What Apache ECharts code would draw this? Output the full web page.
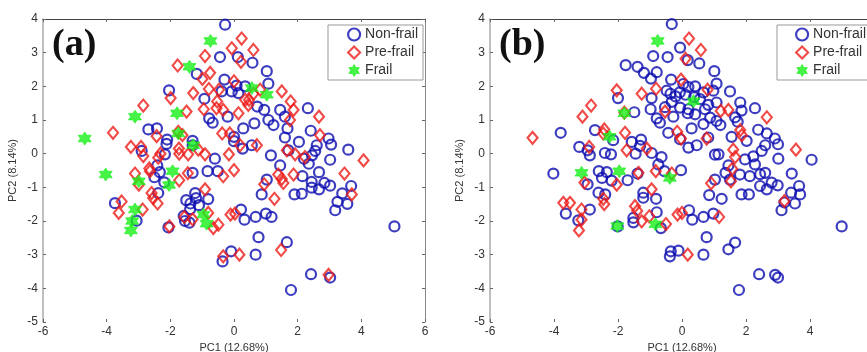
<!DOCTYPE html>
<html>
<head>
<meta charset="utf-8">
<script src="https://cdn.jsdelivr.net/npm/echarts@6/dist/echarts.min.js"></script>
<style>
html,body{margin:0;padding:0;background:#fff;}
#main{width:867px;height:352px;}
</style>
</head>
<body>
<div id="main"></div>
<script>
// axis ranges (same for both panels)
var xRange = [-6, 6, 2];
var yRange = [-5, 4, 1];
var xName = 'PC1 (12.68%)';
var yName = 'PC2 (8.14%)';
var groupNames = ['Non-frail', 'Pre-frail', 'Frail'];
var panelLabels = ['(a)', '(b)'];

// panel (a) scores
var aNonFrail = [
 [-0.28,3.83],[-0.44,2.87],[0.12,2.87],[0.58,2.7],[-1.17,2.37],[1.03,2.45],[-0.3,2.2],[1.08,2.08],[0.08,2.02],[0.35,2.0],
 [-2.04,1.88],[-0.39,1.85],[-0.07,1.85],[0.14,1.8],[-0.93,1.63],[0.73,1.4],[0.95,1.3],[1.08,1.0],[1.24,0.85],[1.45,1.3],
 [1.6,1.1],[1.68,0.75],[1.6,0.48],[2.32,1.35],[2.41,0.68],[2.04,0.35],[2.6,0.25],[2.97,0.45],[3.05,0.27],[3.59,0.12],
 [-0.78,1.05],[-0.67,0.92],[-0.2,1.1],[0.29,0.75],[0.64,0.9],[0,0.37],[0.0,0.5],[0.56,0.25],[0.27,0.15],[1.16,-0.05],
 [1.71,0.1],[2.55,0.08],[2.2,-0.15],[2.45,-0.05],[1.45,-0.35],[2.35,-0.3],[3.02,-0.18],[-2.69,0.72],[-2.42,0.75],[-2.1,0.42],
 [-2.12,0.29],[-1.3,0.38],[-1.3,0.25],[-2.9,0.08],[-2.17,-0.02],[-0.6,-0.15],
 [-3.74,-1.47],[-3.06,-1.99],[-2.41,-0.35],[-2.33,-0.55],[-2.5,-0.7],[-2.19,-0.85],[-2.38,-1.17],[-1.3,-0.57],[-0.83,-0.52],[-0.51,-0.52],
 [-1.22,-1.17],[-1.19,-1.32],[-0.81,-1.35],[-1.5,-1.38],[-1.37,-1.48],[-1.1,-1.53],[-1.38,-1.65],[-1.54,-2.0],[-1.4,-2.05],[-1.58,-1.85],
 [-2.06,-2.19],[-0.36,-3.2],[-0.09,-2.9],[1.03,-0.77],[0.87,-1.21],[2.15,-0.67],[1.9,-1.21],[2.13,-1.19],[2.44,-0.84],[2.44,-1.01],
 [2.67,-1.06],[2.67,-0.55],[2.84,-0.87],[3.02,-0.95],[3.68,-0.96],[3.4,-1.18],[3.25,-1.43],[3.18,-1.68],[3.56,-1.49],[0.22,-1.66],
 [0.33,-1.96],[0.68,-1.88],[1.0,-1.78],[1.18,-1.88],[0.77,-2.48],[1.66,-2.63],[0.68,-3.0],[5.04,-2.16],[2.42,-3.58],[3.02,-3.68],
 [1.79,-4.05]
];
var aPreFrail = [
 [-0.07,3.13],[0.24,3.42],[0.61,3.08],[-0.91,2.9],[0.22,2.73],[-1.77,2.62],[-0.75,2.4],[-0.99,2.22],[0,2.15],[-0.79,1.92],
 [-0.47,1.9],[-1.28,1.8],[-1.99,1.65],[0.82,1.9],[0.61,1.78],[1.5,1.85],[-0.53,1.55],[-0.55,1.35],[0.47,1.6],[0.35,1.6],
 [0.45,1.45],[-0.95,1.32],[-1.49,1.25],[-2.85,1.43],[-0.34,1.3],[0.14,1.2],[1.78,1.55],[1.87,1.3],[1.76,1.0],[2.67,1.1],
 [2.7,0.55],[-3.8,0.62],[-2.43,0.52],[-1.75,0.65],[-1.62,0.55],[-0.37,0.6],[-0.13,0.6],[-3.24,0.2],[-2.92,0.2],[-2.85,-0.07],
 [-2.31,0],[-2.38,-0.12],[-1.73,0.15],[-1.72,0.0],[-1.44,-0.02],[-1.12,0.12],[-0.91,-0.02],[-0.16,-0.02],[0.19,0.25],[0.72,0.25],
 [1.66,0.1],[1.92,-0.02],[2.23,-0.1],[4.07,-0.2],
 [0,-0.49],[-0.34,-0.67],[-3.11,-0.59],[-2.66,-0.44],[-2.64,-0.52],[-2.99,-0.92],[-1.72,-0.79],[-1.45,-0.58],[-0.91,-1.06],[0.95,-0.91],
 [1.39,-0.62],[1.55,-0.87],[1.5,-0.75],[1.87,-0.62],[1.27,-1.34],[3.47,-0.59],[3.7,-1.21],[-3.53,-1.42],[-3.62,-1.76],[-2.87,-1.66],
 [-2.59,-1.17],[-2.54,-1.32],[-2.4,-1.48],[-0.81,-1.76],[-1.56,-1.88],[-1.3,-1.95],[-0.65,-2.21],[-0.49,-2.11],[-2.03,-2.16],[-0.34,-3.05],
 [-0.11,-1.81],[0.03,-1.78],[1.48,-2.86],[0.17,-3.0],[2.97,-3.6]
];
var aFrail = [
 [-0.74,3.35],[-1.4,2.58],[0.56,1.95],[1.03,1.75],[-3.11,1.1],[-1.79,1.2],[-4.69,0.45],[-1.75,0.6],[-1.28,0.25],
 [-4.03,-0.62],[-1.93,-0.52],[-2.99,-0.82],[-2.04,-0.93],[-3.11,-1.66],[-3.2,-2.0],[-3.24,-2.28],[-0.96,-1.81],[-0.86,-2.08]
];

// panel (b) scores
var bNonFrail = [
 [-0.32,3.85],[-0.06,3.15],[-0.9,2.9],[-0.45,2.87],[0.18,2.78],[0.54,2.68],[-1.76,2.63],[-1.39,2.58],[-1.19,2.4],[-0.79,2.42],
 [1.01,2.45],[-0.97,2.23],[-0.34,2.2],[1.08,2.08],[0.04,2.07],[0.41,2.0],[0.2,1.98],[-0.48,1.87],[-0.07,1.82],[0.67,1.82],
 [0.98,1.87],[-0.36,1.78],[-0.2,1.7],[0.11,1.75],[0.38,1.68],[1.5,1.85],[-2.0,1.65],[-0.95,1.65],[-0.32,1.54],[0.56,1.62],
 [1.08,1.52],[1.82,1.52],[-0.98,1.32],[-1.49,1.23],[-0.53,1.38],[-0.06,1.37],[0.2,1.32],[0.72,1.32],[0.82,1.45],[1.86,1.28],
 [2.28,1.35],[-0.79,1.05],[-0.69,0.92],[-0.27,1.1],[0.41,1.17],[0.18,1.2],[0.88,1.07],[1.08,0.97],[1.2,0.85],[1.66,1.08],
 [1.74,0.95],[0.3,0.75],[0.67,0.88],[-0.43,0.62],[-0.06,0.43],[0.2,0.18],[0.46,0.25],[0.82,0.48],[1.03,-0.03],[1.55,0.5],
 [2.02,0.38],[2.38,0.71],[2.65,0.6],[2.9,0.45],[3.0,0.28],[2.6,0.25],[2.49,0.08],[2.23,-0.08],[1.14,-0.02],[3.01,-0.15],
 [4.05,-0.18],[-3.79,0.62],[-2.72,0.7],[-3.21,0.2],[-2.88,-0.05],[-2.95,0.1],[-2.41,0.02],[-2.22,-0.02],[-2.15,0.4],[-1.57,0.35],
 [-1.28,0.42],[-1.31,0.23],[-1.45,0.0],[-0.95,0.02],[-0.64,-0.1],[-0.74,-0.32],
 [-4.02,-0.59],[-3.63,-1.78],[-3.24,-1.98],[-2.88,-1.66],[-2.95,-0.91],[-2.6,-0.52],[-2.5,-0.72],[-2.35,-0.55],[-2.2,-0.8],[-2.61,-1.16],
 [-2.4,-1.21],[-1.7,-0.79],[-1.39,-0.59],[-1.21,-1.16],[-1.21,-1.31],[-0.81,-1.34],[-0.79,-1.74],[-1.52,-1.91],[-1.52,-2.04],[-2.01,-2.16],
 [-0.66,-2.21],[-0.55,-0.52],[-0.38,-3.05],[-0.35,-2.9],[-0.03,-0.49],[1.03,-0.77],[0.85,-1.23],[1.24,-1.34],[1.36,-0.57],[1.5,-0.77],
 [1.81,-0.62],[1.86,-1.21],[2.09,-1.21],[2.12,-0.67],[2.44,-0.96],[2.44,-0.61],[2.65,-1.06],[2.6,-0.57],[2.8,-0.86],[2.99,-0.94],
 [1.97,-0.17],[2.28,-0.32],[1.45,-0.35],[3.43,-0.59],[3.66,-0.96],[3.41,-1.16],[3.69,-1.21],[3.53,-1.48],[3.11,-1.68],[3.2,-1.45],
 [0.22,-1.68],[0.32,-1.96],[0.67,-1.88],[0.98,-1.78],[0.77,-2.48],[1.45,-2.84],[1.66,-2.64],[-0.11,-2.88],[0.67,-3.0],[4.99,-2.16],
 [2.41,-3.58],[2.91,-3.6],[3.0,-3.68],[1.78,-4.05]
];
var bPreFrail = [
 [0.22,3.42],[0.59,3.08],[0.11,2.82],[-0.03,2.2],[-2.04,1.88],[-1.26,1.78],[-0.81,1.93],[0.8,1.9],[-2.84,1.43],[-0.53,1.25],
 [-1.8,1.22],[1.45,1.3],[1.21,1.27],[-3.11,1.1],[2.65,1.08],[-2.43,0.72],[-2.46,0.6],[-1.78,0.62],[1.82,0.7],[1.87,0.55],
 [-0.15,0.65],[-0.03,0.45],[0.77,0.45],[-4.67,0.47],[-2.9,0.2],[-1.73,0.1],[-1.1,0.15],[1.6,0.12],[1.66,-0.1],[3.56,0.12],
 [-0.32,-0.59],[-0.82,-0.52],[-1.36,-0.57],[-2.04,-0.92],[-3.05,-0.86],[-0.95,-1.06],[0.91,-0.88],[1.53,-0.82],[1.57,-0.45],[-3.71,-1.46],
 [-3.5,-1.46],[-3.14,-1.66],[-3.14,-1.96],[-3.22,-2.28],[-2.46,-1.34],[-2.43,-1.5],[-1.47,-1.56],[-1.4,-1.7],[-1.26,-2.01],[-1.02,-1.86],
 [-0.5,-2.09],[-0.14,-1.81],[0.0,-1.76],[1.16,-1.88],[0.18,-3.0],[3.2,-1.41]
];
var bFrail = [
 [-0.76,3.35],[0.36,1.56],[-1.8,1.2],[-2.26,0.5],[-3.14,-0.57],[-1.96,-0.52],[-0.38,-0.72],[-2.02,-2.15],[-0.83,-2.1]
];

var BLUE = '#0c0cb0';
var RED = '#ec1c18';
var GREEN = '#18f018';
var STAR = 'path://M0,-10L2.89,-5L8.66,-5L5.77,0L8.66,5L2.89,5L0,10L-2.89,5L-8.66,5L-5.77,0L-8.66,-5L-2.89,-5Z';

var chart = echarts.init(document.getElementById('main'));

function styleOf(k) {
    if (k === 0) return {symbol: 'circle', symbolSize: 10, itemStyle: {color: 'rgba(0,0,0,0)', borderColor: BLUE, borderWidth: 2.2}};
    if (k === 1) return {symbol: 'diamond', symbolSize: [10, 12], itemStyle: {color: 'rgba(0,0,0,0)', borderColor: RED, borderWidth: 2.1}};
    return {symbol: STAR, symbolSize: 13, itemStyle: {color: GREEN, borderColor: GREEN, borderWidth: 0.8}};
}

var grids = [
    {left: 43, top: 19, width: 382, height: 303},
    {left: 490, top: 19, width: 384, height: 303}
];

var xAxes = [], yAxes = [];
grids.forEach(function (g, gi) {
    xAxes.push({
        type: 'value', gridIndex: gi, min: xRange[0], max: xRange[1], interval: xRange[2], position: 'bottom',
        name: xName, nameLocation: 'middle', nameGap: 17,
        nameTextStyle: {fontSize: 11, color: '#333'},
        axisLine: {show: false, onZero: false},
        axisTick: {show: true, inside: true, length: 3, lineStyle: {color: '#666'}},
        axisLabel: {fontSize: 12, color: '#333', margin: 4},
        splitLine: {show: false}
    });
    xAxes.push({
        type: 'value', gridIndex: gi, min: xRange[0], max: xRange[1], interval: xRange[2], position: 'top',
        axisLine: {show: true, onZero: false, lineStyle: {color: '#444', width: 1}},
        axisTick: {show: true, inside: true, length: 3, lineStyle: {color: '#666'}},
        axisLabel: {show: false}, splitLine: {show: false}
    });
    yAxes.push({
        type: 'value', gridIndex: gi, min: yRange[0], max: yRange[1], interval: yRange[2], position: 'left',
        name: yName, nameLocation: 'middle', nameGap: 25,
        nameTextStyle: {fontSize: 11, color: '#333'},
        axisLine: {show: true, onZero: false, lineStyle: {color: '#aaa', width: 1.5}},
        axisTick: {show: true, inside: true, length: 3, lineStyle: {color: '#666'}},
        axisLabel: {fontSize: 12, color: '#333', margin: 5},
        splitLine: {show: false}
    });
    yAxes.push({
        type: 'value', gridIndex: gi, min: yRange[0], max: yRange[1], interval: yRange[2], position: 'right',
        axisLine: {show: true, onZero: false, lineStyle: {color: '#888', width: 1}},
        axisTick: {show: true, inside: true, length: 3, lineStyle: {color: '#666'}},
        axisLabel: {show: false}, splitLine: {show: false}
    });
});

var panelData = [[aNonFrail, aPreFrail, aFrail], [bNonFrail, bPreFrail, bFrail]];
var series = [];
panelData.forEach(function (sets, gi) {
    sets.forEach(function (d, k) {
        var s = styleOf(k);
        series.push({
            name: groupNames[k], type: 'scatter', xAxisIndex: gi * 2, yAxisIndex: gi * 2,
            data: d, symbol: s.symbol, symbolSize: s.symbolSize, itemStyle: s.itemStyle,
            z: 2 + k
        });
    });
});

function legendItems() {
    return groupNames.map(function (n, k) {
        var s = styleOf(k);
        return {name: n, icon: s.symbol, itemStyle: s.itemStyle};
    });
}

var legendBase = {
    orient: 'vertical', top: 25, itemWidth: 12, itemHeight: 12, itemGap: 3, itemTextGap: 4,
    borderColor: '#999', borderWidth: 1, backgroundColor: '#fff',
    textStyle: {fontSize: 14, color: '#333', lineHeight: 15},
    selectedMode: false
};

var option = {
    animation: false,
    textStyle: {fontFamily: 'Liberation Sans, Arial, sans-serif'},
    grid: grids.map(function (g) { return Object.assign({outerBoundsMode: 'none', containLabel: false}, g); }),
    xAxis: xAxes,
    yAxis: yAxes,
    legend: [
        Object.assign({}, legendBase, {left: 328, padding: [2, 5, 2, 19], data: legendItems()}),
        Object.assign({}, legendBase, {left: 777, padding: [2, 30, 2, 18], data: legendItems()})
    ],
    graphic: [
        {type: 'text', left: 52, top: 26, z: 10, style: {text: panelLabels[0], font: 'bold 38px "Liberation Serif", "Times New Roman", serif', fill: '#111'}},
        {type: 'text', left: 499, top: 26, z: 10, style: {text: panelLabels[1], font: 'bold 38px "Liberation Serif", "Times New Roman", serif', fill: '#111'}}
    ],
    series: series
};

chart.setOption(option);
window.onresize = function () { chart.resize(); };
</script>
</body>
</html>
